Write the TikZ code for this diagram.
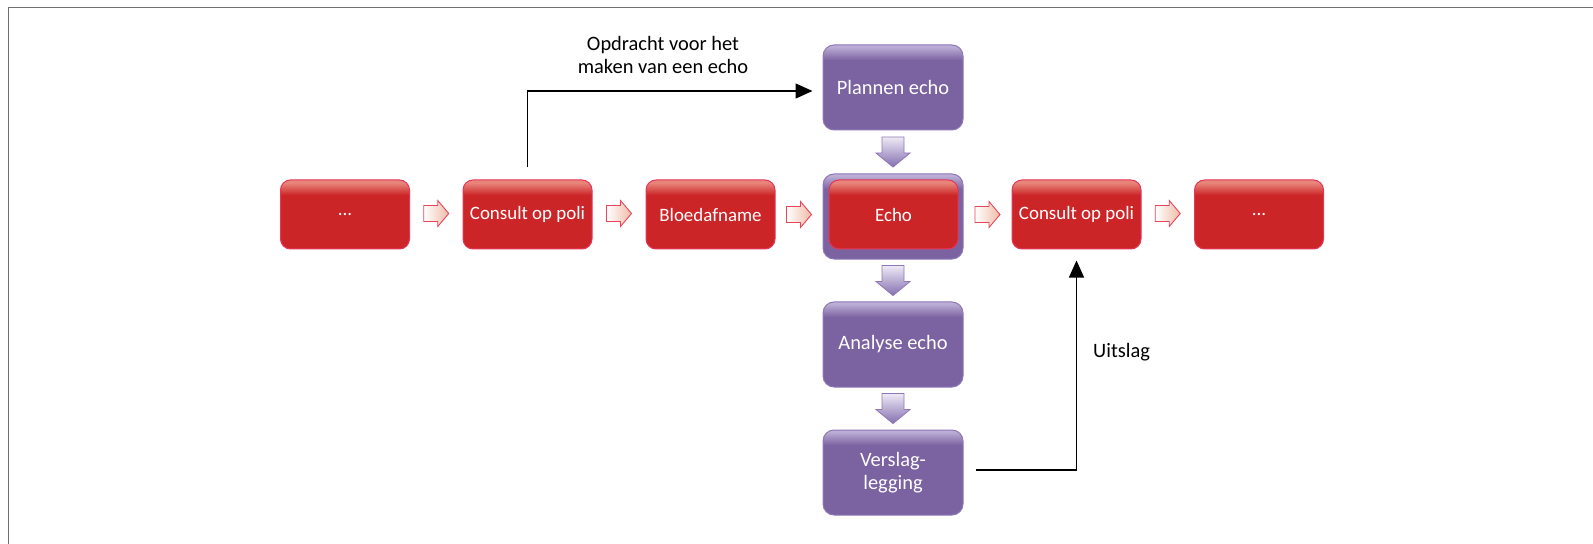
\documentclass[tikz,border=0pt]{standalone}
\usepackage{fontspec}
\setmainfont{Carlito}
\usetikzlibrary{calc,arrows.meta}

\definecolor{redfill}{HTML}{CC2528}
\definecolor{redtop}{HTML}{E8857A}
\definecolor{redline}{HTML}{E5355A}
\definecolor{purfill}{HTML}{7B62A0}
\definecolor{purtop}{HTML}{BCAED6}
\definecolor{purline}{HTML}{8E78B8}
\definecolor{peach}{HTML}{F0BBA6}
\definecolor{arrline}{HTML}{E8455A}
\definecolor{lavender}{HTML}{EEE9F5}
\definecolor{arrpur}{HTML}{8470B0}
\definecolor{framegrey}{HTML}{707070}

% glossy top band on the boxes
\pgfdeclareverticalshading{redgloss}{100bp}{color(0bp)=(redfill); color(64bp)=(redfill); color(73bp)=(redtop); color(100bp)=(redtop)}
\pgfdeclareverticalshading{purgloss}{100bp}{color(0bp)=(purfill); color(66bp)=(purfill); color(74bp)=(purtop); color(100bp)=(purtop)}

\tikzset{
  redbox/.style={rounded corners=10bp, minimum width=129bp, minimum height=69bp,
    inner sep=0pt, draw=redline, line width=1bp, shade, shading=redgloss,
    text=white, font=\fontsize{19}{22}\selectfont, align=center},
  purbox/.style={rounded corners=11bp, minimum width=140bp, minimum height=85bp,
    inner sep=0pt, draw=purline, line width=1bp, shade, shading=purgloss,
    text=white, font=\fontsize{20.5}{23}\selectfont, align=center},
  conn/.style={line width=1.3bp, black, -{Triangle[length=17bp,width=15bp]}},
  lbl/.style={font=\fontsize{20.5}{24}\selectfont, align=center, inner sep=0pt},
  stepright/.pic={
    \draw[draw=arrline, line width=0.9bp, left color=white, right color=peach]
      (-12.5,-8) -- (1.5,-8) -- (1.5,-13) -- (12.5,0) -- (1.5,13) -- (1.5,8) -- (-12.5,8) -- cycle;
  },
  stepdown/.pic={
    \draw[draw=purline, line width=0.9bp, top color=lavender, bottom color=arrpur]
      (-11,-15) -- (11,-15) -- (11,1) -- (17,1) -- (0,15) -- (-17,1) -- (-11,1) -- cycle;
  }
}

\begin{document}
\begin{tikzpicture}[x=1bp, y=-1bp]
\useasboundingbox (0,0) rectangle (1593,544);

% frame lines
\draw[framegrey, line width=1.6bp] (8.5,544) -- (8.5,7.5) -- (1593,7.5);

% vertical echo chain
\node[purbox] (pPlan) at (893,87.5) {Plannen echo};
\node[purbox] (pEcho) at (893,216.5) {};
\node[purbox] (pAna)  at (893,344.5) {Analyse echo};
\node[purbox] (pVer)  at (893,472.5) {Verslag-\\legging};

% main process row
\node[redbox] (r1) at (345,214.5)    {...};
\node[redbox] (r2) at (527.5,214.5)  {Consult op poli};
\node[redbox] (r3) at (710.5,214.5)  {Bloedafname};
\node[redbox] (r4) at (893.5,214.5)  {Echo};
\node[redbox] (r5) at (1076.5,214.5) {Consult op poli};
\node[redbox] (r6) at (1259,214.5)   {...};

% block arrows between the steps
\foreach \a/\b in {r1/r2, r2/r3, r3/pEcho, pEcho/r5, r5/r6}{
  \pic at ($(\a.east)!0.5!(\b.west)+(0,-1)$) {stepright};
}
\foreach \a/\b in {pPlan/pEcho, pEcho/pAna, pAna/pVer}{
  \pic at ($(\a.south)!0.5!(\b.north)$) {stepdown};
}

% request and result connectors
\draw[conn] ([yshift=12bp]r2.north) |- ([xshift=-10bp,yshift=-3.5bp]pPlan.west);
\node[lbl] (opd) at (663,55) {Opdracht voor het\\maken van een echo};

\draw[conn] ([xshift=12bp,yshift=2.5bp]pVer.east) -| ([yshift=-11bp]r5.south);
\node[lbl, anchor=west] (uit) at (1093,352) {Uitslag};
\end{tikzpicture}
\end{document}
